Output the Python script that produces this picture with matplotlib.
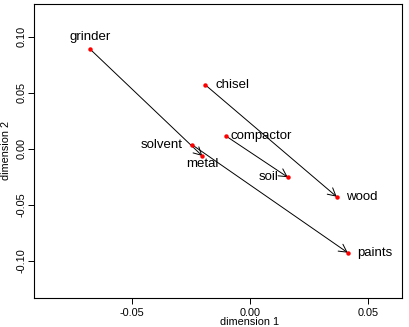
import matplotlib
matplotlib.use('Agg')
import matplotlib.pyplot as plt

plt.rcParams['font.family'] = ['Liberation Sans', 'DejaVu Sans']

# MDS coordinates of each word
words = ['grinder', 'chisel', 'compactor', 'solvent', 'metal', 'soil', 'wood', 'paints']
dim1 = [-0.0678, -0.0189, -0.0102, -0.0244, -0.0202, 0.0160, 0.0367, 0.0414]
dim2 = [0.0890, 0.0569, 0.0113, 0.0033, -0.0065, -0.0255, -0.0429, -0.0929]
# which side the label goes (R pos: 1 below, 2 left, 3 above, 4 right)
label_pos = [3, 4, 4, 2, 1, 2, 4, 4]

# arrows: from -> to
arrow_from = ['grinder', 'chisel', 'compactor', 'solvent']
arrow_to = ['metal', 'wood', 'soil', 'paints']

xticks = [-0.05, 0.00, 0.05]
yticks = [-0.10, -0.05, 0.00, 0.05, 0.10]

fig = plt.figure(figsize=(4.09, 3.27), dpi=100)
ax = fig.add_axes([34/409, 1-297.5/327, 368.3/409, 293.5/327])

for a, b in zip(arrow_from, arrow_to):
    i = words.index(a)
    j = words.index(b)
    ax.annotate('', xy=(dim1[j], dim2[j]), xytext=(dim1[i], dim2[i]),
                arrowprops=dict(arrowstyle='->,head_length=0.56,head_width=0.3',
                                color='black', lw=0.7, shrinkA=0, shrinkB=0,
                                mutation_scale=10))

ax.plot(dim1, dim2, 'o', color='red', markersize=3.2, markeredgewidth=0, zorder=3)

offsets = {1: (0, -6, 'center', 'center'),
           2: (-7, 0, 'right', 'center'),
           3: (0, 9, 'center', 'center'),
           4: (7, 0, 'left', 'center')}
for k in range(len(words)):
    dx, dy, ha, va = offsets[label_pos[k]]
    if words[k] == 'compactor':
        dx = 3.5
    ax.annotate(words[k], (dim1[k], dim2[k]), xytext=(dx, dy), textcoords='offset points',
                ha=ha, va=va, fontsize=9.5)

ax.set_xlim(-0.0915, 0.0645)
ax.set_ylim(-0.1329, 0.1292)
ax.set_xticks(xticks)
ax.set_xticklabels(['%.2f' % v for v in xticks])
ax.set_yticks(yticks)
ax.set_yticklabels(['%.2f' % v for v in yticks], rotation=90, va='center')
ax.tick_params(direction='out', length=4, width=0.7, labelsize=7.8)
ax.tick_params(axis='x', pad=3.2)
ax.tick_params(axis='y', pad=1.5)
for s in ax.spines.values():
    s.set_linewidth(0.8)

ax.set_xlabel('dimension 1', fontsize=7.8, va='center')
ax.xaxis.set_label_coords((250-34)/368.3, (297.5-322)/293.5)
ax.set_ylabel('dimension 2', fontsize=7.8, va='center')
ax.yaxis.set_label_coords((6-34)/368.3, 0.5)

fig.savefig('out.png', dpi=100)
